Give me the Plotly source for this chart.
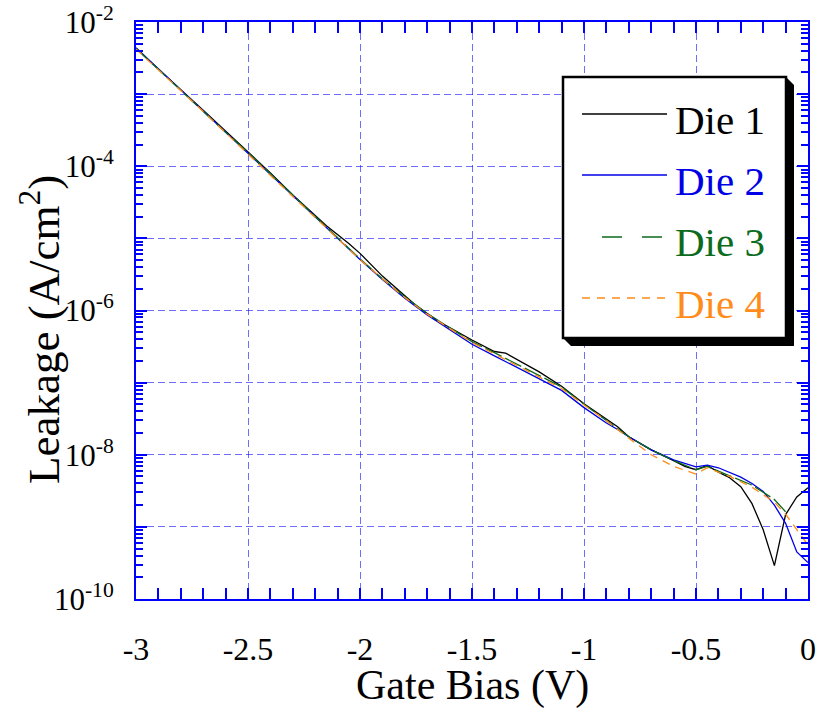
import plotly.graph_objects as go

# ---------------- data ----------------
die1_v = [-3.0, -2.9, -2.8, -2.7, -2.6, -2.5, -2.4, -2.3, -2.2, -2.15, -2.05, -2.0, -1.9, -1.85,
          -1.75, -1.65, -1.5, -1.4, -1.35, -1.2, -1.1, -1.0, -0.9, -0.85, -0.8, -0.7, -0.6, -0.55,
          -0.5, -0.45, -0.4, -0.35, -0.3, -0.25, -0.2, -0.15, -0.1, -0.05, 0.0]
die1_j = [4.3e-3, 2.19e-3, 1.15e-3, 6.0e-4, 3.1e-4, 1.58e-4, 8.1e-5, 4.0e-5, 2.1e-5, 1.5e-5, 8.5e-6,
          6.2e-6, 3.0e-6, 2.2e-6, 1.17e-6, 7.1e-7, 3.9e-7, 2.7e-7, 2.57e-7, 1.41e-7, 8.9e-8, 5.1e-8,
          3.1e-8, 2.45e-8, 1.78e-8, 1.17e-8, 8.3e-9, 6.9e-9, 6.2e-9, 7.1e-9, 5.75e-9, 4.8e-9, 3.6e-9,
          2.1e-9, 9.1e-10, 2.9e-10, 1.48e-9, 2.6e-9, 3.5e-9]

die2_v = [-3.0, -2.9, -2.8, -2.7, -2.6, -2.5, -2.4, -2.3, -2.2, -2.1, -2.0, -1.9, -1.8, -1.7, -1.6,
          -1.5, -1.4, -1.3, -1.2, -1.1, -1.0, -0.9, -0.85, -0.8, -0.7, -0.6, -0.5, -0.45, -0.4, -0.35,
          -0.3, -0.25, -0.2, -0.15, -0.1, -0.05, 0.0]
die2_j = [4.4e-3, 2.24e-3, 1.15e-3, 5.9e-4, 3.0e-4, 1.55e-4, 7.9e-5, 4.0e-5, 2.0e-5, 1.0e-5, 5.1e-6,
          2.7e-6, 1.48e-6, 8.7e-7, 5.4e-7, 3.4e-7, 2.35e-7, 1.62e-7, 1.12e-7, 7.8e-8, 4.5e-8, 2.75e-8,
          2.24e-8, 1.78e-8, 1.17e-8, 8.5e-9, 6.8e-9, 7.2e-9, 6.6e-9, 5.75e-9, 4.9e-9, 4.0e-9, 3.1e-9,
          2.0e-9, 1.12e-9, 4.5e-10, 3.2e-10]

die3_v = [-3.0, -2.9, -2.8, -2.7, -2.6, -2.5, -2.4, -2.3, -2.2, -2.1, -2.0, -1.9, -1.8, -1.7, -1.6,
          -1.5, -1.4, -1.3, -1.2, -1.1, -1.0, -0.9, -0.8, -0.7, -0.6, -0.5, -0.45, -0.35, -0.25,
          -0.15, -0.1]
die3_j = [4.3e-3, 2.2e-3, 1.12e-3, 5.75e-4, 2.95e-4, 1.55e-4, 7.8e-5, 3.9e-5, 2.0e-5, 1.02e-5, 5.2e-6,
          2.75e-6, 1.55e-6, 9.1e-7, 5.75e-7, 3.7e-7, 2.6e-7, 1.82e-7, 1.26e-7, 8.7e-8, 5.0e-8, 3.0e-8,
          1.78e-8, 1.17e-8, 8.3e-9, 6.2e-9, 6.9e-9, 5.1e-9, 3.8e-9, 2.4e-9, 1.62e-9]

die4_v = [-3.0, -2.9, -2.8, -2.7, -2.6, -2.5, -2.4, -2.3, -2.2, -2.1, -2.0, -1.9, -1.8, -1.7, -1.6,
          -1.5, -1.4, -1.3, -1.2, -1.1, -1.0, -0.9, -0.8, -0.7, -0.6, -0.5, -0.45, -0.35, -0.25,
          -0.15, -0.1, -0.05, 0.0]
die4_j = [4.2e-3, 2.14e-3, 1.12e-3, 5.75e-4, 2.9e-4, 1.51e-4, 7.6e-5, 3.8e-5, 1.95e-5, 1.0e-5, 5.1e-6,
          2.75e-6, 1.51e-6, 8.9e-7, 5.6e-7, 3.6e-7, 2.5e-7, 1.74e-7, 1.2e-7, 8.3e-8, 4.9e-8, 2.95e-8,
          1.7e-8, 1.0e-8, 6.9e-9, 5.4e-9, 6.6e-9, 5.0e-9, 3.55e-9, 2.2e-9, 1.5e-9, 9.3e-10, 5.6e-10]

series_names = ["Die 1", "Die 2", "Die 3", "Die 4"]
x_tick_vals = [-3, -2.5, -2, -1.5, -1, -0.5, 0]
x_tick_text = ["-3", "-2.5", "-2", "-1.5", "-1", "-0.5", "0"]
y_exponents = [-10, -9, -8, -7, -6, -5, -4, -3, -2]
y_tick_text = ["10<sup>-10</sup>", "", "10<sup>-8</sup>", "", "10<sup>-6</sup>", "",
               "10<sup>-4</sup>", "", "10<sup>-2</sup>"]

# ---------------- styles ----------------
FONT = "Liberation Serif, Times New Roman, serif"
colors = ["#000000", "#0000e6", "#0d6b1d", "#ff8c1a"]
dashes = ["solid", "solid", "18px,4px", "8px,6px"]
AXIS_BLUE = "#0000ff"
GRID_BLUE = "rgba(30,30,255,0.65)"

W, H = 829, 709
L, R, T, B = 136, 21, 22, 110
PW, PH = W - L - R, H - T - B


def pxx(p):
    return (p - L) / PW


def pxy(p):
    return (H - B - p) / PH


fig = go.Figure()
for name, xv, yv, c, d in zip(series_names, [die1_v, die2_v, die3_v, die4_v],
                              [die1_j, die2_j, die3_j, die4_j], colors, dashes):
    fig.add_trace(go.Scatter(x=xv, y=yv, mode="lines", name=name,
                             line=dict(color=c, width=1.3, dash=d), showlegend=False))

y_tickvals = [10.0 ** e for e in y_exponents]
y_minor = [m * 10.0 ** e for e in y_exponents[:-1] for m in range(2, 10)]

fig.update_xaxes(range=[-3, 0], tickmode="array", tickvals=x_tick_vals, ticktext=x_tick_text,
                 showline=True, linecolor=AXIS_BLUE, linewidth=2, mirror="ticks",
                 ticks="inside", ticklen=11, tickcolor=AXIS_BLUE, tickwidth=1.5,
                 showgrid=True, gridcolor=GRID_BLUE, gridwidth=1.3, griddash="7px,4px",
                 zeroline=False, ticklabelstandoff=21,
                 tickfont=dict(family=FONT, size=32, color="black"),
                 minor=dict(dtick=0.1, ticks="inside", ticklen=11, tickcolor=AXIS_BLUE,
                            tickwidth=1.5, showgrid=False))
fig.update_yaxes(type="log", range=[-10, -2], tickmode="array", tickvals=y_tickvals,
                 ticktext=y_tick_text,
                 showline=True, linecolor=AXIS_BLUE, linewidth=2, mirror="ticks",
                 ticks="inside", ticklen=11, tickcolor=AXIS_BLUE, tickwidth=1.5,
                 showgrid=True, gridcolor=GRID_BLUE, gridwidth=1.3, griddash="7px,4px",
                 zeroline=False, ticklabelstandoff=14,
                 tickfont=dict(family=FONT, size=31, color="black"),
                 minor=dict(tickvals=y_minor, ticks="inside", ticklen=7, tickcolor=AXIS_BLUE,
                            tickwidth=1.5, showgrid=False))

# ---------------- legend (drawn manually) ----------------
bx0, by0, bx1, by1 = 563, 77, 786, 338
sh = 8
shapes = [
    dict(type="path", xref="paper", yref="paper", fillcolor="black", line=dict(width=0),
         path=f"M {pxx(bx0)},{pxy(by1)} L {pxx(bx1)},{pxy(by1)} L {pxx(bx1)},{pxy(by0)} "
              f"L {pxx(bx1 + sh)},{pxy(by0 + sh)} L {pxx(bx1 + sh)},{pxy(by1 + sh)} "
              f"L {pxx(bx0 + sh)},{pxy(by1 + sh)} Z"),
    dict(type="rect", xref="paper", yref="paper", x0=pxx(bx0), x1=pxx(bx1), y0=pxy(by1), y1=pxy(by0),
         fillcolor="white", line=dict(color="black", width=2.5)),
]
row_y = [114, 175, 237, 298]
text_y = [120, 181, 242, 304]
line_x = [(582, 667), (582, 667), (602, 662), (582, 667)]
leg_dash = ["solid", "solid", "20px,20px", "8px,7px"]
annotations = []
for i, name in enumerate(series_names):
    shapes.append(dict(type="line", xref="paper", yref="paper",
                       x0=pxx(line_x[i][0]), x1=pxx(line_x[i][1]), y0=pxy(row_y[i]), y1=pxy(row_y[i]),
                       line=dict(color=colors[i], width=1.3, dash=leg_dash[i])))
    annotations.append(dict(xref="paper", yref="paper", x=pxx(673), y=pxy(text_y[i]),
                            xanchor="left", yanchor="middle", showarrow=False, text=name,
                            font=dict(family=FONT, size=41, color=colors[i])))

annotations.append(dict(xref="paper", yref="paper", x=pxx(472), y=pxy(685), xanchor="center",
                        yanchor="middle", showarrow=False, text="Gate Bias (V)",
                        font=dict(family=FONT, size=42, color="black")))
annotations.append(dict(xref="paper", yref="paper", x=pxx(41), y=pxy(330), xanchor="center",
                        yanchor="middle", showarrow=False, textangle=-90,
                        text="Leakage (A/cm<sup>2</sup>)",
                        font=dict(family=FONT, size=45, color="black")))

fig.update_layout(width=W, height=H, margin=dict(l=L, r=R, t=T, b=B, autoexpand=False),
                  paper_bgcolor="white", plot_bgcolor="white",
                  shapes=shapes, annotations=annotations, showlegend=False)

fig.write_html("out.html")
